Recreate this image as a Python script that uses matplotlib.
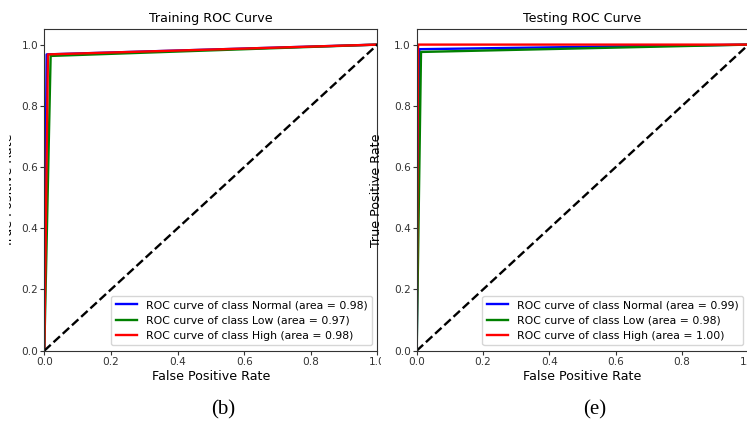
import matplotlib
matplotlib.use("Agg")
import matplotlib.pyplot as plt
from matplotlib.patches import Rectangle

plt.rcParams['font.family'] = ['DejaVu Sans']

classes = ["Normal", "Low", "High"]
colors = ["blue", "green", "red"]

# Training ROC points
train_fpr = {"Normal": [0.0, 0.007, 1.0], "Low": [0.0, 0.019, 1.0], "High": [0.0, 0.011, 1.0]}
train_tpr = {"Normal": [0.0, 0.968, 1.0], "Low": [0.0, 0.963, 1.0], "High": [0.0, 0.968, 1.0]}
train_auc = {"Normal": 0.98, "Low": 0.97, "High": 0.98}

# Testing ROC points
test_fpr = {"Normal": [0.0, 0.008, 1.0], "Low": [0.0, 0.013, 1.0], "High": [0.0, 0.004, 1.0]}
test_tpr = {"Normal": [0.0, 0.985, 1.0], "Low": [0.0, 0.976, 1.0], "High": [0.0, 1.0, 1.0]}
test_auc = {"Normal": 0.99, "Low": 0.98, "High": 1.00}

titles = ["Training ROC Curve", "Testing ROC Curve"]
captions = ["(b)", "(e)"]

W, H = 747, 424
fig = plt.figure(figsize=(W / 100, H / 100), dpi=100)

def px_rect(x0, x1, ytop, ybot):
    return [x0 / W, (H - ybot) / H, (x1 - x0) / W, (ybot - ytop) / H]

ax1 = fig.add_axes(px_rect(44.3, 377.5, 29.3, 350.7))
ax2 = fig.add_axes(px_rect(416.7, 748.5, 29.3, 350.7))
ax2.set_zorder(1)

TICK = 7.6
LAB = 9.1
LEG = 7.8

for ax, fpr, tpr, auc, title in [(ax1, train_fpr, train_tpr, train_auc, titles[0]),
                                  (ax2, test_fpr, test_tpr, test_auc, titles[1])]:
    for c, col in zip(classes, colors):
        ax.plot(fpr[c], tpr[c], color=col, lw=1.7,
                label=f"ROC curve of class {c} (area = {auc[c]:.2f})")
    ax.plot([0, 1], [0, 1], 'k--', lw=1.7)
    ax.set_xlim(0.0, 1.0)
    ax.set_ylim(0.0, 1.05)
    ax.set_xticks([0.0, 0.2, 0.4, 0.6, 0.8, 1.0])
    ax.set_yticks([0.0, 0.2, 0.4, 0.6, 0.8, 1.0])
    ax.tick_params(labelsize=TICK, colors='#333333', length=2.6, pad=1.6, width=0.8)
    for s in ax.spines.values():
        s.set_color('#333333')
    ax.set_xlabel("False Positive Rate", fontsize=LAB, labelpad=2.5)
    ax.set_ylabel("True Positive Rate", fontsize=LAB)
    ax.set_title(title, fontsize=LAB, pad=5)
    ax.legend(loc="lower right", fontsize=LEG)

ax1.yaxis.set_label_coords((15 - 44.3) / 333.2, 0.5)
ax2.yaxis.set_label_coords((383 - 416.7) / 331.8, 0.5)

# cropped edges of the composited panels
fig.patches.append(Rectangle((381 / W, 0), (414 - 381) / W, 1, transform=fig.transFigure,
                             facecolor='white', edgecolor='none', zorder=0.5))
fig.patches.append(Rectangle((0, 0), 8.5 / W, 1, transform=fig.transFigure,
                             facecolor='white', edgecolor='none', zorder=0.5))

fig.text(223 / W, 1 - 410 / H, captions[0], ha='center', va='center',
         fontsize=15, family='Liberation Serif')
fig.text(595 / W, 1 - 410 / H, captions[1], ha='center', va='center',
         fontsize=15, family='Liberation Serif')

fig.savefig("out.png", dpi=100)
